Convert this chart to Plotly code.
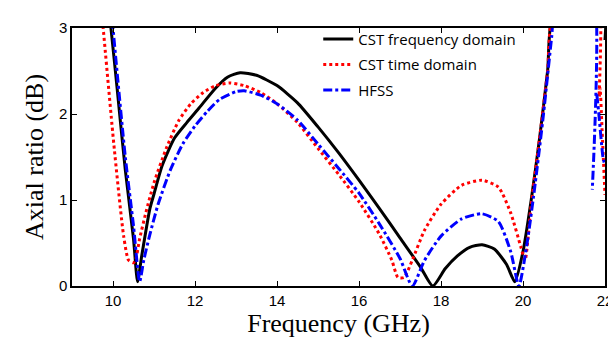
import plotly.graph_objects as go

# CST frequency domain
cst_f_x = [9.9, 9.95, 10.1, 10.3, 10.5, 10.6, 10.7, 10.9, 11.0, 11.2, 11.5, 11.8, 12.1, 12.5, 12.8, 13.1,
           13.5, 14.0, 14.5, 15.0, 15.5, 16.0, 16.5, 17.0, 17.5, 17.8, 18.1, 18.4, 18.7, 19.0, 19.3,
           19.6, 19.8, 20.0, 20.2, 20.4, 20.6, 20.75, 21.96, 22.0]
cst_f_y = [3.2, 3.0, 2.3, 1.35, 0.55, 0.05, 0.35, 0.9, 1.07, 1.4, 1.72, 1.9, 2.07, 2.3, 2.43, 2.48,
           2.45, 2.33, 2.13, 1.85, 1.55, 1.23, 0.9, 0.56, 0.22, 0.0, 0.2, 0.35, 0.45, 0.48, 0.43,
           0.25, 0.05, 0.4, 1.0, 1.7, 2.5, 3.2, 3.6, 2.86]

# CST time domain
cst_t_x = [9.7, 9.76, 10.02, 10.26, 10.38, 10.5, 10.55, 10.65, 10.8, 11.0, 11.3, 11.6, 11.9, 12.2, 12.5,
           12.85, 13.2, 13.6, 14.0, 14.5, 15.0, 15.5, 16.0, 16.5, 16.8, 16.95, 17.1, 17.3, 17.6, 18.0,
           18.5, 19.0, 19.4, 19.7, 19.95, 20.05, 20.2, 20.4, 20.6, 20.75, 21.8, 21.86, 21.88, 21.93, 22.0]
cst_t_y = [3.3, 3.0, 1.65, 0.58, 0.3, 0.27, 0.3, 0.55, 0.85, 1.2, 1.6, 1.92, 2.12, 2.25, 2.33,
           2.36, 2.33, 2.25, 2.12, 1.9, 1.6, 1.3, 0.98, 0.6, 0.3, 0.1, 0.1, 0.3, 0.65, 0.95,
           1.17, 1.23, 1.15, 0.85, 0.45, 0.3, 0.95, 1.7, 2.5, 3.2, 3.6, 2.2, 2.3, 1.8, 1.06]

# HFSS
hfss_x = [9.95, 10.0, 10.3, 10.5, 10.65, 10.75, 10.9, 11.1, 11.4, 11.7, 12.0, 12.3, 12.6, 13.0, 13.2,
          13.6, 14.0, 14.5, 15.0, 15.5, 16.0, 16.5, 17.0, 17.3, 17.6, 18.0, 18.5, 19.0, 19.4, 19.7,
          19.9, 20.1, 20.3, 20.5, 20.7, 20.8, 21.66, 21.69, None, 21.8, 21.85, 21.95, 22.0]
hfss_y = [3.3, 3.0, 1.5, 0.7, 0.05, 0.3, 0.6, 0.95, 1.35, 1.65, 1.86, 2.03, 2.17, 2.26, 2.27,
          2.22, 2.12, 1.93, 1.65, 1.37, 1.08, 0.72, 0.32, 0.0, 0.3, 0.58, 0.78, 0.84, 0.75, 0.4,
          0.0, 0.5, 1.2, 2.0, 2.9, 3.3, 3.6, 1.12, None, 2.23, 2.0, 1.5, 1.4]

x_ticks = [10, 12, 14, 16, 18, 20, 22]
y_ticks = [0, 1, 2, 3]

fig = go.Figure()
fig.add_trace(go.Scatter(x=cst_f_x, y=cst_f_y, mode="lines", name="CST frequency domain",
                         legendgroup="a",
                         line=dict(color="black", width=3, shape="spline", smoothing=0.6)))
fig.add_trace(go.Scatter(x=cst_t_x, y=cst_t_y, mode="lines", name="CST time domain",
                         legendgroup="b",
                         line=dict(color="#ff0000", width=3, dash="dot", shape="spline", smoothing=0.6)))
fig.add_trace(go.Scatter(x=hfss_x, y=hfss_y, mode="lines", name="HFSS", connectgaps=False,
                         legendgroup="c",
                         line=dict(color="#0000ff", width=3, dash="dashdot", shape="spline", smoothing=0.6)))

axis_common = dict(showgrid=False, zeroline=False, showline=True, linecolor="black", linewidth=1.5,
                   mirror="ticks", ticks="inside", ticklen=5, tickcolor="black",
                   tickfont=dict(family="Liberation Sans", size=15, color="black"))
fig.update_xaxes(range=[9, 22], tickvals=x_ticks, **axis_common,
                 title=dict(text="Frequency (GHz)", font=dict(family="Liberation Serif", size=26, color="black"),
                            standoff=6))
fig.update_yaxes(range=[0, 3], tickvals=y_ticks, **axis_common,
                 title=dict(text="Axial ratio (dB)", font=dict(family="Liberation Serif", size=26, color="black"),
                            standoff=8))
fig.update_layout(
    width=616, height=343,
    margin=dict(l=64, r=11, t=15, b=65),
    paper_bgcolor="white", plot_bgcolor="white",
    showlegend=True,
    legend=dict(x=0.462, y=1.02, xanchor="left", yanchor="top", bgcolor="rgba(0,0,0,0)",
                font=dict(family="Open Sans", size=15, color="black"), tracegroupgap=3),
)
fig.write_html("out.html")
